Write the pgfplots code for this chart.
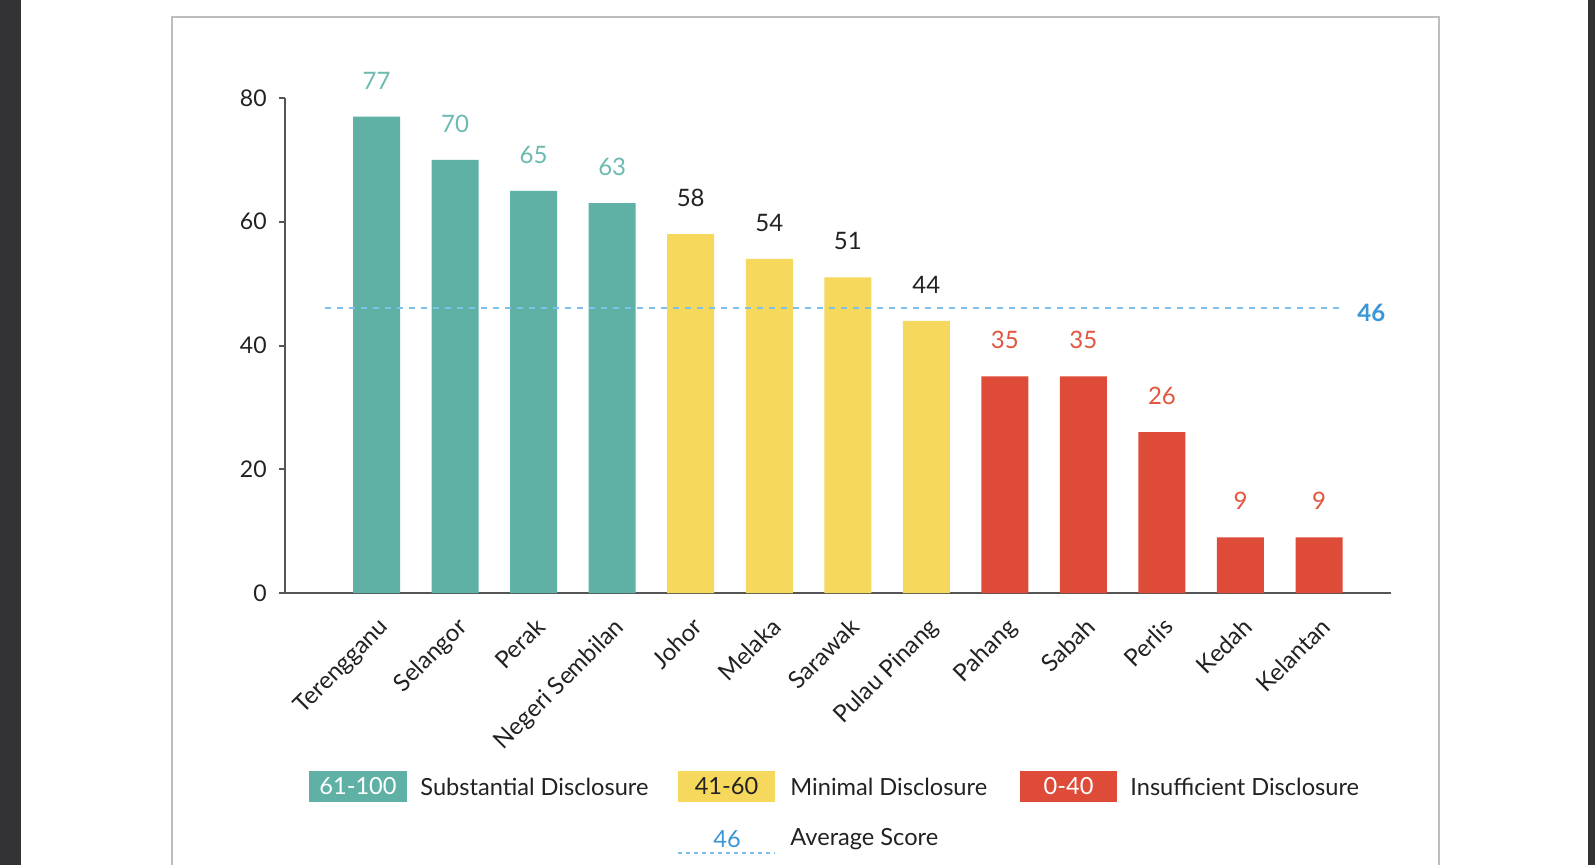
\documentclass[border=0pt]{standalone}
\usepackage{fontspec}
\setmainfont{Lato}
\usepackage{pgfplots}
\pgfplotsset{compat=1.18}
\definecolor{cteal}{HTML}{5FB1A6}
\definecolor{cteallab}{HTML}{6CBAB0}
\definecolor{cyel}{HTML}{F6D95C}
\definecolor{cred}{HTML}{DE4B39}
\definecolor{credlab}{HTML}{E2553F}
\definecolor{cblue}{HTML}{3A96D6}
\definecolor{cdash}{HTML}{7CC2E8}
\definecolor{ctext}{HTML}{222222}
\definecolor{caxis}{HTML}{555555}
\definecolor{cdark}{HTML}{333335}
\definecolor{cframe}{HTML}{BDBDBD}
\newcommand{\ticksize}{\fontsize{12}{14}\selectfont}
\newcommand{\yticksize}{\fontsize{11.5}{13}\selectfont}
\newcommand{\valsize}{\fontsize{12}{14}\selectfont}
\newcommand{\legsize}{\fontsize{11.8}{14}\selectfont}
\begin{document}
\begin{tikzpicture}
\begin{scope}[x=0.5pt,y=-0.5pt]
\useasboundingbox (0,0) rectangle (1595,865);
\fill[white] (0,0) rectangle (1595,865);
\fill[cdark] (0,0) rectangle (21,865);
\fill[cdark] (1588,0) rectangle (1595,865);
\draw[cframe, line width=0.75pt] (172,870) -- (172,17) -- (1439,17) -- (1439,870);
% legend
\fill[cteal] (309,771) rectangle (407,802);
\node[text=white, font=\legsize, inner sep=0pt] at (358,786.5) {61-100};
\node[text=ctext, font=\legsize, inner sep=0pt, anchor=west] at (420,786.5) {Substantial Disclosure};
\fill[cyel] (678,771) rectangle (775,802);
\node[text=ctext, font=\legsize, inner sep=0pt] at (726.5,786.5) {41-60};
\node[text=ctext, font=\legsize, inner sep=0pt, anchor=west] at (790,786.5) {Minimal Disclosure};
\fill[cred] (1020,771) rectangle (1117,802);
\node[text=white, font=\legsize, inner sep=0pt] at (1068.5,786.5) {0-40};
\node[text=ctext, font=\legsize, inner sep=0pt, anchor=west] at (1130,786.5) {Insufficient Disclosure};
\node[text=cblue, font=\legsize, inner sep=0pt] at (727,839) {46};
\draw[cdash, line width=1pt, dash pattern=on 2pt off 2pt] (678,853) -- (775,853);
\node[text=ctext, font=\legsize, inner sep=0pt, anchor=west] at (790,839) {Average Score};
\end{scope}
\begin{axis}[
  at={(142.5pt,-296.5pt)}, anchor=south west,
  scale only axis, width=553pt, height=247.5pt,
  xmin=-1.166, xmax=12.917, ymin=0, ymax=80,
  axis x line=bottom, axis y line=left,
  axis line style={-, draw=caxis, line width=1pt},
  xtick={0,...,12},
  xticklabels={Terengganu,Selangor,Perak,Negeri Sembilan,Johor,Melaka,Sarawak,Pulau Pinang,Pahang,Sabah,Perlis,Kedah,Kelantan},
  ytick={0,20,40,60,80},
  x tick style={draw=none},
  y tick style={draw=caxis, line width=1pt},
  tick align=outside, major tick length=3pt,
  xticklabel style={rotate=45, anchor=north east, inner sep=0pt, xshift=-5.6pt, yshift=-6.1pt, font=\ticksize, text=ctext},
  yticklabel style={inner sep=0pt, xshift=-6pt, font=\yticksize, text=ctext},
  /pgf/number format/assume math mode=true,
  clip=false,
]
\addplot[ybar, bar width=23.5pt, bar shift=0pt, fill=cteal, draw=none,
  nodes near coords, nodes near coords style={font=\valsize, text=cteallab, anchor=south, inner sep=0pt, yshift=13.5pt}]
  coordinates {(0,77) (1,70) (2,65) (3,63)};
\addplot[ybar, bar width=23.5pt, bar shift=0pt, fill=cyel, draw=none,
  nodes near coords, nodes near coords style={font=\valsize, text=ctext, anchor=south, inner sep=0pt, yshift=13.5pt}]
  coordinates {(4,58) (5,54) (6,51) (7,44)};
\addplot[ybar, bar width=23.5pt, bar shift=0pt, fill=cred, draw=none,
  nodes near coords, nodes near coords style={font=\valsize, text=credlab, anchor=south, inner sep=0pt, yshift=13.5pt}]
  coordinates {(8,35) (9,35) (10,26) (11,9) (12,9)};
\addplot[cdash, line width=1pt, dash pattern=on 3pt off 3pt] coordinates {(-0.656,46) (12.3,46)};
\node[text=cblue, font=\bfseries\valsize, inner sep=0pt, anchor=west, yshift=-2.3pt] at (axis cs:12.484,46) {46};
\end{axis}
\end{tikzpicture}
\end{document}
